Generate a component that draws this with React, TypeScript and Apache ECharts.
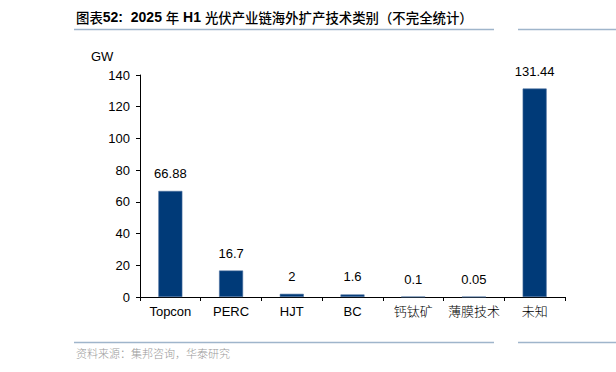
import React, { useEffect, useRef } from "react";
import * as echarts from "echarts";

const categories = ["Topcon", "PERC", "HJT", "BC", "钙钛矿", "薄膜技术", "未知"];
const values = [66.88, 16.7, 2, 1.6, 0.1, 0.05, 131.44];
const yTicks = { min: 0, max: 140, interval: 20 };
const titleParts: [string, string][] = [
  ["c", "图表"],
  ["b", "52: "],
  ["b", " 2025 "],
  ["c", "年"],
  ["b", " H1 "],
  ["c", "光伏产业链海外扩产技术类别（不完全统计）"],
];
const sourceText = "资料来源：集邦咨询，华泰研究";
const unitText = "GW";

export default function App() {
  const ref = useRef<HTMLDivElement>(null);
  useEffect(() => {
    if (!ref.current) return;
    const chart = echarts.init(ref.current, undefined, { renderer: "svg" });
    const latin = "'Liberation Sans', Arial, sans-serif";
    const cjk = "'Liberation Sans', 'Noto Sans CJK SC', sans-serif";
    const titleRich = titleParts.map(([k, t]) => `{${k}|${t}}`).join("");
    chart.setOption({
      animation: false,
      backgroundColor: "#ffffff",
      grid: { left: 140, right: 51, top: 75, bottom: 75, containLabel: false },
      xAxis: {
        type: "category",
        data: categories,
        axisLine: { lineStyle: { color: "#000", width: 1 } },
        axisTick: { show: true, length: 4, lineStyle: { color: "#000" } },
        axisLabel: {
          color: "#000",
          fontSize: 13,
          fontFamily: cjk,
          fontWeight: 300,
          margin: 8,
          interval: 0,
        },
      },
      yAxis: {
        type: "value",
        min: yTicks.min,
        max: yTicks.max,
        interval: yTicks.interval,
        axisLine: { show: true, lineStyle: { color: "#000", width: 1 } },
        axisTick: { show: true, length: 4, lineStyle: { color: "#000" } },
        splitLine: { show: false },
        axisLabel: { color: "#000", fontSize: 13, fontFamily: latin, margin: 10 },
      },
      series: [
        {
          type: "bar",
          data: values,
          barWidth: 24,
          itemStyle: { color: "#003A78", borderColor: "#4A6E9E", borderWidth: 0.6 },
          label: {
            show: true,
            position: "top",
            distance: 11,
            color: "#000",
            fontSize: 13,
            fontFamily: latin,
          },
        },
      ],
      graphic: [
        {
          type: "text",
          left: 76,
          top: 10,
          style: {
            text: titleRich,
            rich: {
              b: { fontSize: 14, fontWeight: "bold", fontFamily: latin, fill: "#000" },
              c: { fontSize: 13.4, fontWeight: 500, fontFamily: "'Noto Sans CJK SC', sans-serif", fill: "#000" },
            },
          },
        },
        {
          type: "line",
          shape: { x1: 74, y1: 29.5, x2: 494, y2: 29.5 },
          style: { stroke: "#9FB5CB", lineWidth: 1.5 },
        },
        {
          type: "line",
          shape: { x1: 518, y1: 29.5, x2: 616, y2: 29.5 },
          style: { stroke: "#9FB5CB", lineWidth: 1.5 },
        },
        {
          type: "text",
          left: 91,
          top: 50,
          style: { text: unitText, fontSize: 13, fontFamily: latin, fill: "#000" },
        },
        {
          type: "line",
          shape: { x1: 74, y1: 342.5, x2: 494, y2: 342.5 },
          style: { stroke: "#9FB5CB", lineWidth: 1.5 },
        },
        {
          type: "line",
          shape: { x1: 518, y1: 342.5, x2: 616, y2: 342.5 },
          style: { stroke: "#9FB5CB", lineWidth: 1.5 },
        },
        {
          type: "text",
          left: 76,
          top: 348,
          style: { text: sourceText, fontSize: 11, fontWeight: 300, fontFamily: cjk, fill: "#9A9A9A" },
        },
      ],
    });
    return () => chart.dispose();
  }, []);
  return (
    <div
      ref={ref}
      style={{ position: "fixed", left: 0, top: 0, width: 616, height: 372 }}
    />
  );
}
